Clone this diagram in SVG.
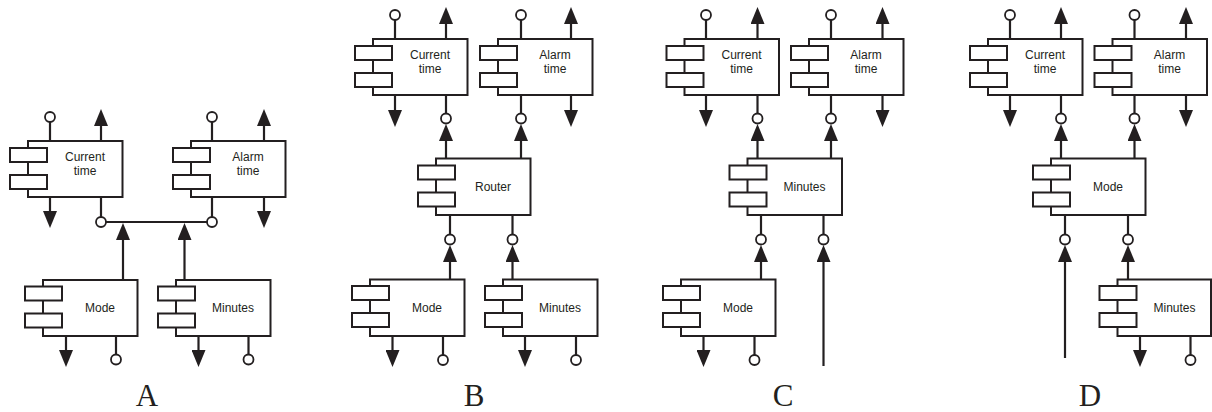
<svg xmlns="http://www.w3.org/2000/svg" width="1212" height="412" viewBox="0 0 1212 412">
<defs>
<style>
.box{fill:#fff;stroke:#231f20;stroke-width:2}
.sub{fill:#fff;stroke:#231f20;stroke-width:2}
.lbl{font-family:"Liberation Sans",Arial,sans-serif;font-size:12px;fill:#231f20;text-anchor:middle}
.ln{stroke:#231f20;stroke-width:2.2;fill:none}
.arr{marker-end:url(#ah)}
.ball{fill:#fff;stroke:#231f20;stroke-width:1.8}
.panel{font-family:"Liberation Serif","Times New Roman",serif;font-size:31px;fill:#231f20;text-anchor:middle}
</style>
<marker id="ah" markerUnits="userSpaceOnUse" viewBox="0 0 17 14" markerWidth="17" markerHeight="14" refX="13" refY="7" orient="auto">
<path d="M0,0 L17,7 L0,14 Z" fill="#231f20"/>
</marker>
</defs>

<!-- Panel A nodes -->
<g id="currentA"><rect class="box" x="28" y="141" width="94.5" height="56"/><rect class="sub" x="10" y="148" width="37" height="14"/><rect class="sub" x="10" y="175" width="37" height="14"/><text class="lbl" x="85" y="161">Current</text><text class="lbl" x="85" y="175">time</text></g>
<g id="alarmA"><rect class="box" x="191" y="141" width="94.5" height="56"/><rect class="sub" x="173" y="148" width="37" height="14"/><rect class="sub" x="173" y="175" width="37" height="14"/><text class="lbl" x="248" y="161">Alarm</text><text class="lbl" x="248" y="175">time</text></g>
<g id="modeA"><rect class="box" x="43" y="280" width="94.5" height="56"/><rect class="sub" x="25" y="286.5" width="37" height="14"/><rect class="sub" x="25" y="313.5" width="37" height="14"/><text class="lbl" x="100" y="312">Mode</text></g>
<g id="minutesA"><rect class="box" x="176" y="280" width="94.5" height="56"/><rect class="sub" x="158" y="286.5" width="37" height="14"/><rect class="sub" x="158" y="313.5" width="37" height="14"/><text class="lbl" x="233" y="312">Minutes</text></g>

<!-- Panel B nodes -->
<g id="currentB"><rect class="box" x="373" y="39" width="94.5" height="56"/><rect class="sub" x="355" y="46" width="37" height="14"/><rect class="sub" x="355" y="73" width="37" height="14"/><text class="lbl" x="430" y="58.5">Current</text><text class="lbl" x="430" y="73">time</text></g>
<g id="alarmB"><rect class="box" x="498" y="39" width="94.5" height="56"/><rect class="sub" x="480" y="46" width="37" height="14"/><rect class="sub" x="480" y="73" width="37" height="14"/><text class="lbl" x="555" y="58.5">Alarm</text><text class="lbl" x="555" y="73">time</text></g>
<g id="routerB"><rect class="box" x="436" y="158.5" width="94.5" height="56.5"/><rect class="sub" x="418" y="165.5" width="37" height="14"/><rect class="sub" x="418" y="192.5" width="37" height="14"/><text class="lbl" x="493" y="190.5">Router</text></g>
<g id="modeB"><rect class="box" x="370" y="279.5" width="94.5" height="56.5"/><rect class="sub" x="352" y="286" width="37" height="14"/><rect class="sub" x="352" y="313" width="37" height="14"/><text class="lbl" x="427" y="311.5">Mode</text></g>
<g id="minutesB"><rect class="box" x="503" y="279.5" width="94.5" height="56.5"/><rect class="sub" x="485" y="286" width="37" height="14"/><rect class="sub" x="485" y="313" width="37" height="14"/><text class="lbl" x="560" y="311.5">Minutes</text></g>

<!-- Panel C nodes -->
<g id="currentC"><rect class="box" x="684.5" y="39" width="94.5" height="56"/><rect class="sub" x="666.5" y="46" width="37" height="14"/><rect class="sub" x="666.5" y="73" width="37" height="14"/><text class="lbl" x="741.5" y="58.5">Current</text><text class="lbl" x="741.5" y="73">time</text></g>
<g id="alarmC"><rect class="box" x="809" y="39" width="94.5" height="56"/><rect class="sub" x="791" y="46" width="37" height="14"/><rect class="sub" x="791" y="73" width="37" height="14"/><text class="lbl" x="866" y="58.5">Alarm</text><text class="lbl" x="866" y="73">time</text></g>
<g id="minutesC"><rect class="box" x="747.5" y="158.5" width="94.5" height="56.5"/><rect class="sub" x="729.5" y="165.5" width="37" height="14"/><rect class="sub" x="729.5" y="192.5" width="37" height="14"/><text class="lbl" x="804.5" y="190.5">Minutes</text></g>
<g id="modeC"><rect class="box" x="681" y="279.5" width="94.5" height="56.5"/><rect class="sub" x="663" y="286" width="37" height="14"/><rect class="sub" x="663" y="313" width="37" height="14"/><text class="lbl" x="738" y="311.5">Mode</text></g>

<!-- Panel D nodes -->
<g id="currentD"><rect class="box" x="988" y="39" width="94.5" height="56"/><rect class="sub" x="970" y="46" width="37" height="14"/><rect class="sub" x="970" y="73" width="37" height="14"/><text class="lbl" x="1045" y="58.5">Current</text><text class="lbl" x="1045" y="73">time</text></g>
<g id="alarmD"><rect class="box" x="1112.5" y="39" width="94.5" height="56"/><rect class="sub" x="1094.5" y="46" width="37" height="14"/><rect class="sub" x="1094.5" y="73" width="37" height="14"/><text class="lbl" x="1169.5" y="58.5">Alarm</text><text class="lbl" x="1169.5" y="73">time</text></g>
<g id="modeD"><rect class="box" x="1051" y="158.5" width="94.5" height="56.5"/><rect class="sub" x="1033" y="165.5" width="37" height="14"/><rect class="sub" x="1033" y="192.5" width="37" height="14"/><text class="lbl" x="1108" y="190.5">Mode</text></g>
<g id="minutesD"><rect class="box" x="1117.5" y="279.5" width="93.5" height="56.5"/><rect class="sub" x="1099.5" y="286" width="37" height="14"/><rect class="sub" x="1099.5" y="313" width="37" height="14"/><text class="lbl" x="1174.5" y="311.5">Minutes</text></g>

<g id="connectors">
<!-- Panel A -->
<line class="ln" x1="50" y1="141" x2="50" y2="117"/>
<line class="ln arr" x1="101" y1="141" x2="101" y2="113"/>
<line class="ln arr" x1="50" y1="197" x2="50" y2="224"/>
<line class="ln" x1="101" y1="197" x2="101" y2="222"/>
<line class="ln" x1="212" y1="141" x2="212" y2="117"/>
<line class="ln arr" x1="264" y1="141" x2="264" y2="113"/>
<line class="ln arr" x1="264" y1="197" x2="264" y2="224"/>
<line class="ln" x1="212" y1="197" x2="212" y2="222"/>
<line class="ln" x1="101" y1="222" x2="212" y2="222"/>
<line class="ln arr" x1="123" y1="280" x2="123" y2="227"/>
<line class="ln arr" x1="184.5" y1="280" x2="184.5" y2="227"/>
<line class="ln arr" x1="66" y1="336" x2="66" y2="363"/>
<line class="ln" x1="116" y1="336" x2="116" y2="359.5"/>
<line class="ln arr" x1="198.5" y1="336" x2="198.5" y2="363"/>
<line class="ln" x1="248.5" y1="336" x2="248.5" y2="359.5"/>
<circle class="ball" cx="50" cy="117" r="5"/>
<circle class="ball" cx="101" cy="222" r="5"/>
<circle class="ball" cx="212" cy="117" r="5"/>
<circle class="ball" cx="212" cy="222" r="5"/>
<circle class="ball" cx="116" cy="359.5" r="5"/>
<circle class="ball" cx="248.5" cy="359.5" r="5"/>

<!-- Panel B -->
<line class="ln" x1="395" y1="39" x2="395" y2="15"/>
<line class="ln arr" x1="446" y1="39" x2="446" y2="11"/>
<line class="ln arr" x1="395" y1="95" x2="395" y2="123"/>
<line class="ln" x1="446" y1="95" x2="446" y2="118.5"/>
<line class="ln" x1="521" y1="39" x2="521" y2="15"/>
<line class="ln arr" x1="571" y1="39" x2="571" y2="11"/>
<line class="ln arr" x1="571" y1="95" x2="571" y2="123"/>
<line class="ln" x1="521" y1="95" x2="521" y2="118.5"/>
<line class="ln arr" x1="446" y1="158.5" x2="446" y2="128"/>
<line class="ln arr" x1="521" y1="158.5" x2="521" y2="128"/>
<line class="ln" x1="450" y1="215" x2="450" y2="239.5"/>
<line class="ln" x1="512.5" y1="215" x2="512.5" y2="239.5"/>
<line class="ln arr" x1="450" y1="279.5" x2="450" y2="249"/>
<line class="ln arr" x1="512.5" y1="279.5" x2="512.5" y2="249"/>
<line class="ln arr" x1="392.5" y1="336" x2="392.5" y2="363"/>
<line class="ln" x1="443" y1="336" x2="443" y2="360"/>
<line class="ln arr" x1="525" y1="336" x2="525" y2="363"/>
<line class="ln" x1="576" y1="336" x2="576" y2="360"/>
<circle class="ball" cx="395" cy="15" r="5"/>
<circle class="ball" cx="446" cy="118.5" r="5"/>
<circle class="ball" cx="521" cy="15" r="5"/>
<circle class="ball" cx="521" cy="118.5" r="5"/>
<circle class="ball" cx="450" cy="239.5" r="5"/>
<circle class="ball" cx="512.5" cy="239.5" r="5"/>
<circle class="ball" cx="443" cy="360" r="5"/>
<circle class="ball" cx="576" cy="360" r="5"/>

<!-- Panel C -->
<line class="ln" x1="706" y1="39" x2="706" y2="15"/>
<line class="ln arr" x1="757.5" y1="39" x2="757.5" y2="11"/>
<line class="ln arr" x1="706" y1="95" x2="706" y2="123"/>
<line class="ln" x1="757.5" y1="95" x2="757.5" y2="118.5"/>
<line class="ln" x1="831" y1="39" x2="831" y2="15"/>
<line class="ln arr" x1="882.5" y1="39" x2="882.5" y2="11"/>
<line class="ln arr" x1="882.5" y1="95" x2="882.5" y2="123"/>
<line class="ln" x1="831" y1="95" x2="831" y2="118.5"/>
<line class="ln arr" x1="757.5" y1="158.5" x2="757.5" y2="128"/>
<line class="ln arr" x1="831" y1="158.5" x2="831" y2="128"/>
<line class="ln" x1="761" y1="215" x2="761" y2="239.5"/>
<line class="ln" x1="823.5" y1="215" x2="823.5" y2="239.5"/>
<line class="ln arr" x1="761" y1="279.5" x2="761" y2="249"/>
<line class="ln arr" x1="823.5" y1="366" x2="823.5" y2="249"/>
<line class="ln arr" x1="703.5" y1="336" x2="703.5" y2="363"/>
<line class="ln" x1="754.5" y1="336" x2="754.5" y2="360"/>
<circle class="ball" cx="706" cy="15" r="5"/>
<circle class="ball" cx="757.5" cy="118.5" r="5"/>
<circle class="ball" cx="831" cy="15" r="5"/>
<circle class="ball" cx="831" cy="118.5" r="5"/>
<circle class="ball" cx="761" cy="239.5" r="5"/>
<circle class="ball" cx="823.5" cy="239.5" r="5"/>
<circle class="ball" cx="754.5" cy="360" r="5"/>

<!-- Panel D -->
<line class="ln" x1="1010" y1="39" x2="1010" y2="15"/>
<line class="ln arr" x1="1061" y1="39" x2="1061" y2="11"/>
<line class="ln arr" x1="1010" y1="95" x2="1010" y2="123"/>
<line class="ln" x1="1061" y1="95" x2="1061" y2="118.5"/>
<line class="ln" x1="1134.5" y1="39" x2="1134.5" y2="15"/>
<line class="ln arr" x1="1186" y1="39" x2="1186" y2="11"/>
<line class="ln arr" x1="1186" y1="95" x2="1186" y2="123"/>
<line class="ln" x1="1134.5" y1="95" x2="1134.5" y2="118.5"/>
<line class="ln arr" x1="1061" y1="158.5" x2="1061" y2="128"/>
<line class="ln arr" x1="1134.5" y1="158.5" x2="1134.5" y2="128"/>
<line class="ln" x1="1065" y1="215" x2="1065" y2="239.5"/>
<line class="ln" x1="1128" y1="215" x2="1128" y2="239.5"/>
<line class="ln arr" x1="1065" y1="358" x2="1065" y2="249"/>
<line class="ln arr" x1="1128" y1="279.5" x2="1128" y2="249"/>
<line class="ln arr" x1="1140" y1="336" x2="1140" y2="363"/>
<line class="ln" x1="1190.5" y1="336" x2="1190.5" y2="360"/>
<circle class="ball" cx="1010" cy="15" r="5"/>
<circle class="ball" cx="1061" cy="118.5" r="5"/>
<circle class="ball" cx="1134.5" cy="15" r="5"/>
<circle class="ball" cx="1134.5" cy="118.5" r="5"/>
<circle class="ball" cx="1065" cy="239.5" r="5"/>
<circle class="ball" cx="1128" cy="239.5" r="5"/>
<circle class="ball" cx="1190.5" cy="360" r="5"/>
</g>

<g id="panel-labels">
<text class="panel" x="147" y="406">A</text>
<text class="panel" x="474" y="406">B</text>
<text class="panel" x="783" y="406">C</text>
<text class="panel" x="1090" y="406">D</text>
</g>
</svg>
